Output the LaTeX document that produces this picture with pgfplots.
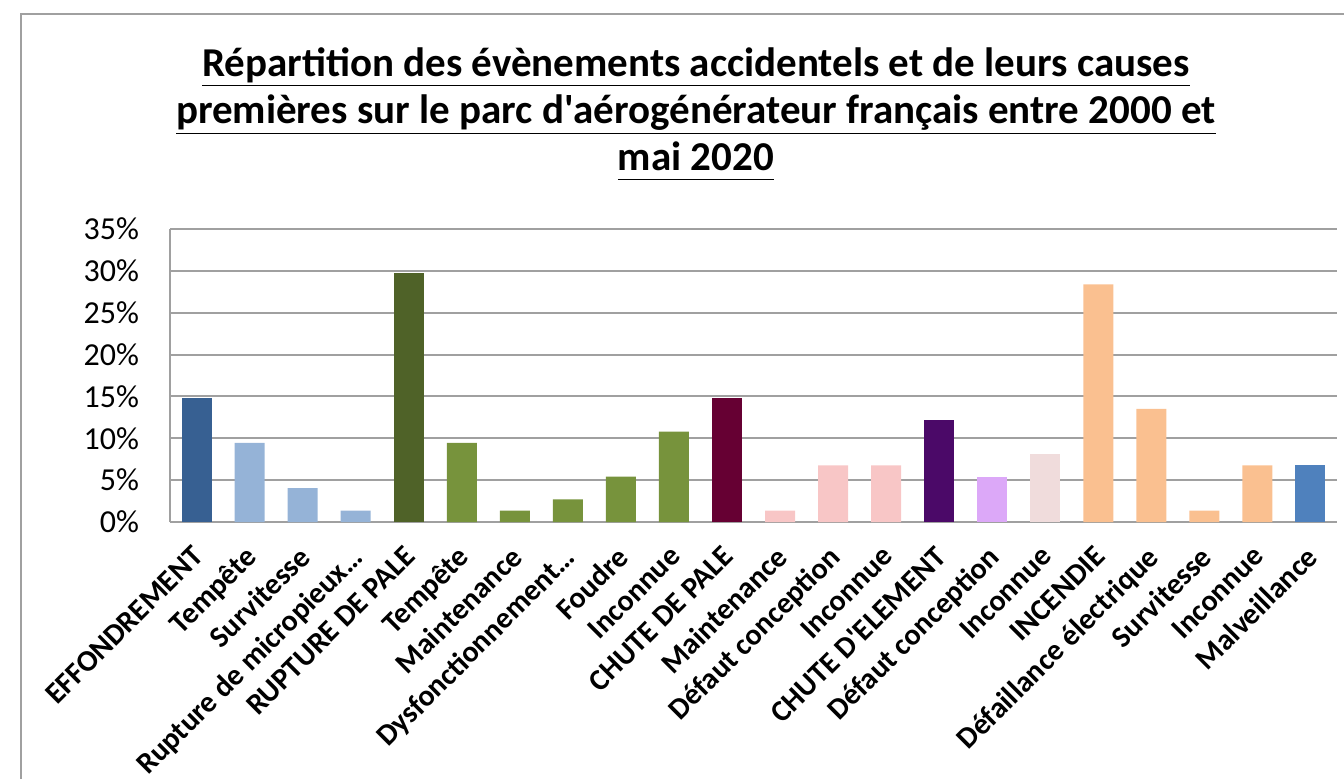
\documentclass[border=0pt]{standalone}
\usepackage{pgfplots}
\pgfplotsset{compat=1.18}
\usepackage{fontspec}
\setmainfont{Carlito}
\definecolor{cDarkBlue}{HTML}{376092}
\definecolor{cLightBlue}{HTML}{95B3D7}
\definecolor{cOlive}{HTML}{4F6228}
\definecolor{cGreen}{HTML}{77933C}
\definecolor{cMaroon}{HTML}{660033}
\definecolor{cPink}{HTML}{F8C6C6}
\definecolor{cPurple}{HTML}{4B0968}
\definecolor{cLav}{HTML}{DCA8F8}
\definecolor{cPale}{HTML}{F0DCDC}
\definecolor{cPeach}{HTML}{FAC090}
\definecolor{cBlue}{HTML}{4F81BD}
\definecolor{cGrid}{HTML}{A0A0A0}
\begin{document}
\begin{tikzpicture}
\useasboundingbox (0pt,0pt) rectangle (672pt,389pt);
\draw[color=cGrid, line width=0.8pt] (10.5pt,-20pt) rectangle (700pt,382pt);
\node[align=center, font=\fontsize{20.5}{23.5}\selectfont\bfseries] at (348pt,332pt)
 {\underline{Répartition des évènements accidentels et de leurs causes}\\
  \underline{premières sur le parc d\textquotesingle aérogénérateur français entre 2000 et}\\
  \underline{mai 2020\vphantom{p}}};
\begin{axis}[
  at={(85pt,128pt)}, anchor=south west,
  scale only axis, width=583.5pt, height=146.5pt,
  xmin=-0.5, xmax=21.5, ymin=0, ymax=35,
  ytick={0,5,10,15,20,25,30,35},
  yticklabels={0\%,5\%,10\%,15\%,20\%,25\%,30\%,35\%},
  yticklabel style={font=\fontsize{16}{18}\selectfont, anchor=east, xshift=-12pt},
  xtick={0,...,21},
  xticklabels={EFFONDREMENT,Tempête,Survitesse,Rupture de micropieux…,RUPTURE DE PALE,Tempête,Maintenance,Dysfonctionnement…,Foudre,Inconnue,CHUTE DE PALE,Maintenance,Défaut conception,Inconnue,CHUTE D\textquotesingle ELEMENT,Défaut conception,Inconnue,INCENDIE,Défaillance électrique,Survitesse,Inconnue,Malveillance},
  xticklabel style={font=\fontsize{15}{16}\selectfont\bfseries, rotate=45, anchor=north east, inner sep=1pt, xshift=-8.8pt, yshift=-4.7pt},
  major tick length=0pt,
  ymajorgrids, grid style={color=cGrid, line width=1pt},
  axis line style={color=cGrid, line width=1pt},
  axis x line*=bottom, axis y line*=left,
  x axis line style={-}, y axis line style={-},
  ybar, bar width=15pt, bar shift=0pt,
  every axis plot/.append style={draw=none},
]
\addplot[fill=cDarkBlue] coordinates {(0,14.86)};
\addplot[fill=cLightBlue] coordinates {(1,9.46) (2,4.05) (3,1.35)};
\addplot[fill=cOlive] coordinates {(4,29.73)};
\addplot[fill=cGreen] coordinates {(5,9.46) (6,1.35) (7,2.70) (8,5.41) (9,10.81)};
\addplot[fill=cMaroon] coordinates {(10,14.86)};
\addplot[fill=cPink] coordinates {(11,1.35) (12,6.76) (13,6.76)};
\addplot[fill=cPurple] coordinates {(14,12.16)};
\addplot[fill=cLav] coordinates {(15,5.41)};
\addplot[fill=cPale] coordinates {(16,8.11)};
\addplot[fill=cPeach] coordinates {(17,28.38) (18,13.51) (19,1.35) (20,6.76)};
\addplot[fill=cBlue] coordinates {(21,6.76)};
\end{axis}
\end{tikzpicture}
\end{document}
